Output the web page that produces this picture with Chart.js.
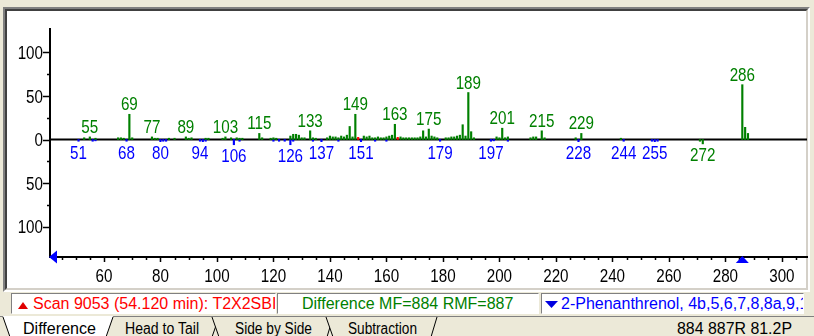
<!DOCTYPE html>
<html>
<head>
<meta charset="utf-8">
<script src="https://cdn.jsdelivr.net/npm/chart.js@4.4.1/dist/chart.umd.min.js"></script>
<style>
  html, body { margin: 0; padding: 0; }
  body { width: 814px; height: 336px; background: #ece9d8; position: relative; overflow: hidden;
         font-family: "Liberation Sans", Arial, sans-serif; }
  #frame { position: absolute; left: 3px; top: 7px; width: 807px; height: 285px; box-sizing: border-box;
           border: 2px solid; border-color: #808080 #ffffff #ffffff #808080; }
  #frame-inner { position: absolute; left: 0; top: 0; right: 0; bottom: 0;
           border: 2px solid; border-color: #404040 #d4d0c8 #d4d0c8 #404040; background: #fff; }
  #plot { position: absolute; left: 0; top: 0; }
  .box { position: absolute; top: 293px; height: 21px; box-sizing: border-box; border: 1px solid;
         border-color: #808080 #ffffff #ffffff #808080; background: #fff; overflow: hidden; white-space: nowrap; }
  .box span { position: absolute; top: 0; font-size: 16px; line-height: 19px; }
  .box svg { position: absolute; top: 0; }
  #tabs { position: absolute; left: 0; top: 316px; }
  #tabs text { font-family: "Liberation Sans", Arial, sans-serif; font-size: 16px; fill: #000; }
</style>
</head>
<body>
<div id="frame"><div id="frame-inner"></div></div>
<canvas id="plot" width="814" height="290"></canvas>

<div class="box" style="left:11px;width:265px">
  <svg width="20" height="19" style="left:0"><polygon points="6,15 11,8 16,15" fill="#e00000"/></svg>
  <span style="left:21px;color:#ff0000">Scan 9053 (54.120 min): T2X2SBI</span>
</div>
<div class="box" style="left:277px;width:262px">
  <span style="left:24px;color:#008000">Difference MF=884 RMF=887</span>
</div>
<div class="box" style="left:541px;width:263px">
  <svg width="20" height="19" style="left:1px"><polygon points="2,7 15,7 8.5,14" fill="#0000e0"/></svg>
  <span style="left:19px;color:#0000ff">2-Phenanthrenol, 4b,5,6,7,8,8a,9,10-octahydro-</span>
</div>

<svg id="tabs" width="814" height="20">
  <line x1="0" y1="0.5" x2="814" y2="0.5" stroke="#808080"/>
  <g>
    <polygon points="100,1 219,1 212,21 106,21" fill="#ece9d8"/>
    <line x1="212" y1="21" x2="219" y2="1" stroke="#000"/>
    <text x="125" y="18" textLength="74" lengthAdjust="spacingAndGlyphs">Head to Tail</text>
  </g>
  <g>
    <polygon points="212,1 333,1 327,21 219,21" fill="#ece9d8"/>
    <line x1="212" y1="1" x2="219" y2="21" stroke="#000"/>
    <line x1="327" y1="21" x2="333" y2="1" stroke="#000"/>
    <text x="235" y="18" textLength="77" lengthAdjust="spacingAndGlyphs">Side by Side</text>
  </g>
  <g>
    <polygon points="326,1 437,1 431,21 333,21" fill="#ece9d8"/>
    <line x1="326" y1="1" x2="333" y2="21" stroke="#000"/>
    <line x1="431" y1="21" x2="437" y2="1" stroke="#000"/>
    <text x="348" y="18" textLength="69" lengthAdjust="spacingAndGlyphs">Subtraction</text>
  </g>
  <g>
    <polygon points="3,0 113,0 106,21 10,21" fill="#ffffff"/>
    <line x1="3" y1="1" x2="10" y2="21" stroke="#000"/>
    <line x1="106" y1="21" x2="113" y2="1" stroke="#000"/>
    <text x="23" y="18" textLength="73" lengthAdjust="spacingAndGlyphs">Difference</text>
  </g>
  <text x="677" y="18" textLength="115" lengthAdjust="spacingAndGlyphs">884 887R 81.2P</text>
</svg>

<script>
// Difference spectrum: m/z values and relative intensities (sample minus library, upward)
const mzDiff = [
  53, 55, 57, 65, 66, 67, 69, 70, 77, 78, 79, 83, 85, 89, 90, 91, 96, 97,
  102, 103, 105, 107, 108, 109, 115, 116, 119, 120, 121, 126, 127, 128, 129, 130, 131, 133, 134, 135,
  139, 140, 141, 142, 143, 144, 145, 146, 147, 148, 149, 152, 153, 154, 155, 156, 157, 158, 159, 160, 161, 162, 163,
  165, 166, 167, 168, 169, 170, 171, 172, 173, 174, 175, 176, 177, 178, 181, 182, 183, 184, 185, 186, 187, 188, 189, 190, 191,
  199, 200, 201, 202, 203, 211, 212, 213, 215, 216, 227, 229, 243, 286, 287, 288
];
const intDiff = [
  2, 3, 1.5, 2, 2, 1.5, 29, 2, 3, 1.5, 1.5, 1.5, 1.5, 3, 1.5, 2, 1.5, 1.5,
  1.5, 3, 2, 2, 1.5, 1.5, 7, 2, 1.5, 2, 1.5, 4, 6, 6, 5, 2, 2, 10, 2, 1.5,
  2, 4, 3, 3, 2, 4, 3, 5, 15, 3, 29, 4, 3, 4, 2, 2, 3, 2, 2, 3, 4, 5, 17.5,
  3, 2, 2, 2, 2, 2, 2, 3, 10, 3, 12, 4, 3, 2, 2, 2, 3, 3, 4, 5, 17, 4, 54, 9, 2,
  3, 2, 13, 2, 3, 2, 3, 3, 10, 2, 2, 7, 1.5, 63, 14, 7
];

// Difference peaks that fall below the baseline
const mzDiffNeg = [271, 272];
const intDiffNeg = [-2, -5];

// Library spectrum excess (downward)
const mzLib = [51, 56, 57, 68, 80, 81, 82, 94, 95, 96, 106, 108, 120, 122, 124, 126, 127, 134, 137, 143,
               151, 156, 160, 179, 197, 198, 203, 228, 244, 254, 255, 256];
const intLib = [-2, -2, -1.5, -2, -2.5, -2, -2, -2, -2.5, -2, -6, -2, -2, -2, -2, -6, -2, -2, -2.5, -2,
                -2.5, -2, -2, -2, -2, -1.5, -2, -2.5, -2, -2, -2.5, -2];

// Flagged ions
const mzFlag = [150, 164];
const intFlag = [2.5, 2.5];

// Annotated m/z values
const upLabels = [55, 69, 77, 89, 103, 115, 133, 149, 163, 175, 189, 201, 215, 229, 286];
const downLabels = [51, 68, 80, 94, 106, 126, 137, 151, 179, 197, 228, 244, 255];
const downDiffLabels = [272];

// Axis ticks
const xTicks = [60, 80, 100, 120, 140, 160, 180, 200, 220, 240, 260, 280, 300];
const yTicks = [-100, -50, 0, 50, 100];
const yMinorTicks = [-75, -25, 25, 75];
const cursorMz = 286;

const GREEN = '#008000', BLUE = '#0000ff', RED = '#ff0000';
const FONT = '19px "Liberation Sans", Arial, sans-serif';
const CAP = 13.6;        // digit height for FONT
const SQUEEZE = 0.8;     // narrow, upright digit style of the spectrum annotations

const pts = (xs, ys) => xs.map((m, i) => ({ x: m, y: ys[i] }));
const valueAt = (xs, ys, m) => ys[xs.indexOf(m)];

// condensed text: baseline at (px, py)
function narrowText(ctx, txt, px, py, align) {
  ctx.save();
  ctx.translate(px, py);
  ctx.scale(SQUEEZE, 1);
  ctx.textAlign = align;
  ctx.textBaseline = 'alphabetic';
  ctx.fillText(txt, 0, 0);
  ctx.restore();
}

const spectrumDecor = {
  id: 'spectrumDecor',
  beforeDatasetsDraw(chart) {
    const { ctx, chartArea: a, scales: { x, y } } = chart;
    ctx.save();
    ctx.strokeStyle = '#000';
    // baseline at zero
    const y0 = y.getPixelForValue(0);
    ctx.lineWidth = 2;
    ctx.beginPath(); ctx.moveTo(a.left, y0); ctx.lineTo(a.right, y0); ctx.stroke();
    // y ticks
    ctx.lineWidth = 1.5;
    ctx.beginPath();
    yTicks.forEach(v => { const p = Math.round(y.getPixelForValue(v)) + 0.5; ctx.moveTo(a.left - 7, p); ctx.lineTo(a.left, p); });
    yMinorTicks.forEach(v => { const p = Math.round(y.getPixelForValue(v)) + 0.5; ctx.moveTo(a.left - 3, p); ctx.lineTo(a.left, p); });
    ctx.stroke();
    // x ticks, major every 20 and minor every 5
    ctx.beginPath();
    for (let m = 45; m <= 305; m += 5) {
      const p = Math.round(x.getPixelForValue(m)) + 0.5;
      const len = xTicks.includes(m) ? 5 : 3;
      ctx.moveTo(p, a.bottom); ctx.lineTo(p, a.bottom + len);
    }
    ctx.stroke();
    // tick labels
    ctx.font = FONT;
    ctx.fillStyle = '#000';
    yTicks.forEach(v => narrowText(ctx, String(Math.abs(v)), a.left - 7, y.getPixelForValue(v) + CAP / 2, 'right'));
    xTicks.forEach(v => narrowText(ctx, String(v), x.getPixelForValue(v), a.bottom + 11 + CAP, 'center'));
    ctx.restore();
  },
  afterDatasetsDraw(chart) {
    const { ctx, chartArea: a, scales: { x, y } } = chart;
    ctx.save();
    ctx.font = FONT;
    ctx.fillStyle = GREEN;
    upLabels.forEach(m => {
      const v = valueAt(mzDiff, intDiff, m);
      narrowText(ctx, String(m), x.getPixelForValue(m), y.getPixelForValue(v) - 4, 'center');
    });
    ctx.fillStyle = BLUE;
    downLabels.forEach(m => {
      const v = valueAt(mzLib, intLib, m);
      narrowText(ctx, String(m), x.getPixelForValue(m), y.getPixelForValue(v) + 4 + CAP, 'center');
    });
    ctx.fillStyle = GREEN;
    downDiffLabels.forEach(m => {
      const v = valueAt(mzDiffNeg, intDiffNeg, m);
      narrowText(ctx, String(m), x.getPixelForValue(m), y.getPixelForValue(v) + 4 + CAP, 'center');
    });
    // cursor markers
    ctx.fillStyle = '#0000ff';
    ctx.beginPath();
    ctx.moveTo(a.left - 1, a.bottom); ctx.lineTo(a.left + 7, a.bottom - 6.5); ctx.lineTo(a.left + 7, a.bottom + 6.5);
    ctx.closePath(); ctx.fill();
    const cx = x.getPixelForValue(cursorMz);
    ctx.beginPath();
    ctx.moveTo(cx, a.bottom - 1); ctx.lineTo(cx + 6.5, a.bottom + 6); ctx.lineTo(cx - 6.5, a.bottom + 6);
    ctx.closePath(); ctx.fill();
    ctx.restore();
  }
};

const barStyle = { barThickness: 1.5, grouped: false, borderWidth: 0 };

new Chart(document.getElementById('plot'), {
  type: 'bar',
  data: {
    datasets: [
      { label: 'Difference', data: pts(mzDiff, intDiff), backgroundColor: GREEN, ...barStyle },
      { label: 'Difference (below)', data: pts(mzDiffNeg, intDiffNeg), backgroundColor: GREEN, ...barStyle },
      { label: 'Library', data: pts(mzLib, intLib), backgroundColor: BLUE, ...barStyle },
      { label: 'Flagged', data: pts(mzFlag, intFlag), backgroundColor: RED, ...barStyle }
    ]
  },
  options: {
    responsive: false,
    animation: false,
    events: [],
    layout: { padding: { left: 0, right: 7, top: 29, bottom: 0 } },
    plugins: { legend: { display: false }, tooltip: { enabled: false } },
    scales: {
      x: {
        type: 'linear', min: 40.9, max: 308.9, offset: false,
        afterFit: s => { s.height = 33; },
        afterBuildTicks: s => { s.ticks = xTicks.map(v => ({ value: v })); },
        grid: { display: false, drawTicks: false, offset: false },
        border: { display: true, color: '#000', width: 2 },
        ticks: { display: false }
      },
      y: {
        type: 'linear', min: -135, max: 127,
        afterFit: s => { s.width = 50; },
        afterBuildTicks: s => { s.ticks = yTicks.map(v => ({ value: v })); },
        grid: { display: false, drawTicks: false },
        border: { display: true, color: '#000', width: 2 },
        ticks: { display: false }
      }
    }
  },
  plugins: [spectrumDecor]
});
</script>
</body>
</html>
